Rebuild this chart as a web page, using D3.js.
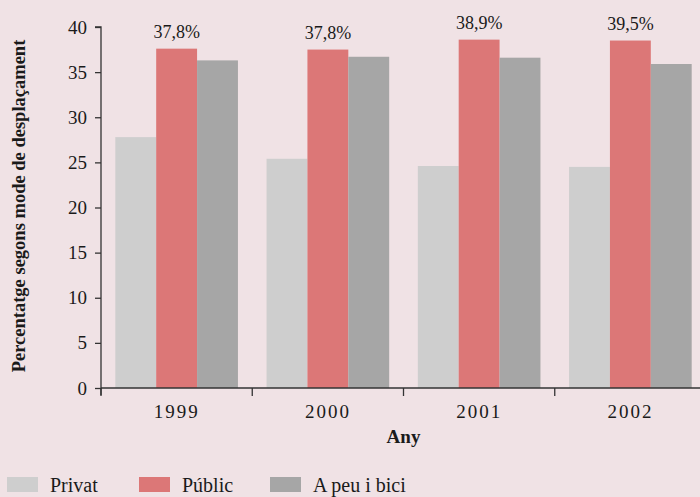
<html>
<head>
<script src="https://cdnjs.cloudflare.com/ajax/libs/d3/7.8.5/d3.min.js"></script>
<style>
  body { margin: 0; background: #f0e2e5; }
  svg text { font-family: "Liberation Serif", "DejaVu Serif", serif; font-variant-numeric: oldstyle-nums; fill: #1a1a1a; }
</style>
</head>
<body>
<script>
// chart data
var years = ['1999', '2000', '2001', '2002'];
var modes = ['Privat', 'Públic', 'A peu i bici'];
var privat = [27.8, 25.4, 24.6, 24.5];
var public_ = [37.6, 37.5, 38.6, 38.5];
var apeu = [36.3, 36.7, 36.6, 35.9];
var publicLabels = ['37,8%', '37,8%', '38,9%', '39,5%'];
var yTicks = [0, 5, 10, 15, 20, 25, 30, 35, 40];
var colors = ['#cecece', '#dc7777', '#a6a6a6'];

var width = 700, height = 497;
var margin = {top: 27, right: -6, bottom: 109, left: 101};

var svg = d3.select('body').append('svg')
  .attr('width', width)
  .attr('height', height);

svg.append('rect').attr('width', width).attr('height', height).attr('fill', '#f0e2e5');

var x = d3.scaleBand()
  .domain(years)
  .range([margin.left, width - margin.right]);

var x1 = d3.scaleBand()
  .domain(modes)
  .range([0, x.bandwidth()])
  .paddingOuter(0.35);

var y = d3.scaleLinear()
  .domain([0, 40])
  .range([height - margin.bottom, margin.top]);

var rows = years.map(function(yr, i) {
  return {year: yr, values: [privat[i], public_[i], apeu[i]], label: publicLabels[i]};
});

// bars
var groups = svg.selectAll('.grp')
  .data(rows)
  .enter().append('g')
  .attr('class', 'grp')
  .attr('transform', function(d) { return 'translate(' + x(d.year) + ',0)'; });

groups.selectAll('rect')
  .data(function(d) { return d.values.map(function(v, j) { return {mode: modes[j], v: v, c: colors[j]}; }); })
  .enter().append('rect')
  .attr('x', function(d) { return x1(d.mode); })
  .attr('width', x1.bandwidth())
  .attr('y', function(d) { return y(d.v); })
  .attr('height', function(d) { return y(0) - y(d.v); })
  .attr('fill', function(d) { return d.c; });

// labels above the public bars
groups.append('text')
  .attr('x', x1('Públic') + x1.bandwidth() / 2)
  .attr('y', function(d) { return y(d.values[1]) - 11; })
  .attr('text-anchor', 'middle')
  .attr('font-size', 18)
  .text(function(d) { return d.label; });

// y axis
var yAxis = svg.append('g')
  .attr('transform', 'translate(' + margin.left + ',0)')
  .call(d3.axisLeft(y).tickValues(yTicks).tickSize(6).tickPadding(8));
yAxis.selectAll('text').attr('font-size', 19).attr('font-family', null).attr('fill', '#1a1a1a');
yAxis.selectAll('line, path').attr('stroke', '#333').attr('stroke-width', 1.3);
yAxis.select('.domain').attr('d', 'M-6,' + y(40) + 'H0V' + (y(0) + 7));

// x axis: line plus ticks at band boundaries
var xg = svg.append('g');
xg.append('line')
  .attr('x1', margin.left).attr('x2', width)
  .attr('y1', y(0)).attr('y2', y(0))
  .attr('stroke', '#333').attr('stroke-width', 1.5);
xg.selectAll('.xt')
  .data(years)
  .enter().append('line')
  .attr('x1', function(d) { return x(d); })
  .attr('x2', function(d) { return x(d); })
  .attr('y1', y(0)).attr('y2', y(0) + 8)
  .attr('stroke', '#333').attr('stroke-width', 1.3);
xg.selectAll('.xl')
  .data(years)
  .enter().append('text')
  .attr('x', function(d) { return x(d) + x.bandwidth() / 2; })
  .attr('y', y(0) + 30)
  .attr('text-anchor', 'middle')
  .attr('font-size', 19)
  .attr('letter-spacing', 2)
  .text(function(d) { return d; });

// axis titles
svg.append('text')
  .attr('x', (margin.left + width - margin.right) / 2)
  .attr('y', 443)
  .attr('text-anchor', 'middle')
  .attr('font-weight', 'bold')
  .attr('font-size', 19)
  .text('Any');

svg.append('text')
  .attr('transform', 'translate(25,' + 206 + ') rotate(-90)')
  .attr('text-anchor', 'middle')
  .attr('font-weight', 'bold')
  .attr('font-size', 18.5)
  .text('Percentatge segons mode de desplaçament');

// legend
var legendX = [7, 139, 270];
var legend = svg.selectAll('.lg')
  .data(modes)
  .enter().append('g')
  .attr('transform', function(d, i) { return 'translate(' + legendX[i] + ',477)'; });
legend.append('rect')
  .attr('width', 31).attr('height', 15)
  .attr('fill', function(d, i) { return colors[i]; });
legend.append('text')
  .attr('x', 43).attr('y', 15)
  .attr('font-size', 20)
  .text(function(d) { return d; });
</script>
</body>
</html>
